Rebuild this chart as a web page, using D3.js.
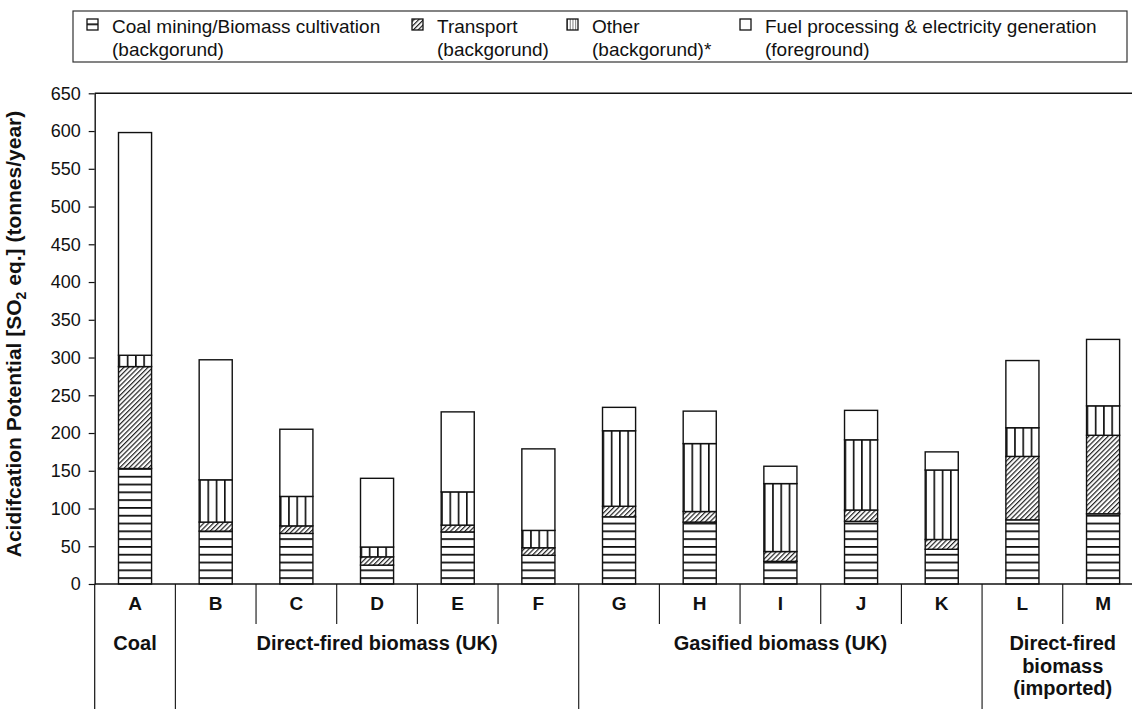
<!DOCTYPE html>
<html>
<head>
<meta charset="utf-8">
<script src="https://cdn.jsdelivr.net/npm/d3@7/dist/d3.min.js"></script>
<style>
  html, body { margin: 0; padding: 0; background: #fff; }
  svg { display: block; font-family: Arial, "Liberation Sans", Helvetica, sans-serif; }
</style>
</head>
<body>
<svg id="chart" width="1132" height="709"></svg>
<script>
// Cases A–M
const categories = ["A","B","C","D","E","F","G","H","I","J","K","L","M"];

// Acidification potential per stage (tonnes SO2 eq./year), stacked bottom to top
const coalMining = [153, 70, 67, 25, 69, 38, 89, 82, 30, 83, 46, 85, 93];
const transport  = [135, 12, 10, 11,  9, 10, 14, 14, 13, 15, 13, 84, 104];
const other      = [ 15, 56, 39, 13, 44, 23,100, 90, 90, 93, 92, 38, 39];
const fuelProc   = [295,159, 89, 91,106,108, 31, 43, 23, 39, 24, 89, 88];

const yTicks = [0,50,100,150,200,250,300,350,400,450,500,550,600,650];

const groups = [
  { lines: ["Coal"], from: "A", to: "A" },
  { lines: ["Direct-fired biomass (UK)"], from: "B", to: "F" },
  { lines: ["Gasified biomass (UK)"], from: "G", to: "K" },
  { lines: ["Direct-fired", "biomass", "(imported)"], from: "L", to: "M" }
];

const seriesKeys = ["coal", "transport", "other", "fuel"];
const legendLabels = [
  ["Coal mining/Biomass cultivation", "(backgorund)"],
  ["Transport", "(backgorund)"],
  ["Other", "(backgorund)*"],
  ["Fuel processing & electricity generation", "(foreground)"]
];

const rows = categories.map((c, i) => ({
  cat: c, coal: coalMining[i], transport: transport[i], other: other[i], fuel: fuelProc[i]
}));

const svg = d3.select("#chart");
const plotLeft = 94.7, step = 80.67, plotTop = 93.3, base = 584;

const x = d3.scaleBand().domain(categories)
  .range([plotLeft, plotLeft + step * categories.length]).padding(0);
const y = d3.scaleLinear().domain([0, 650]).range([base, plotTop]);
const barW = x.bandwidth() * 0.41;

// fill patterns
const defs = svg.append("defs");
const pH = defs.append("pattern").attr("id", "pat-coal")
  .attr("patternUnits", "userSpaceOnUse").attr("width", 8).attr("height", 7.8);
pH.append("rect").attr("width", 8).attr("height", 7.8).attr("fill", "#fff");
pH.append("rect").attr("x", 0).attr("y", 0).attr("width", 8).attr("height", 1.8).attr("fill", "#111");

const pD = defs.append("pattern").attr("id", "pat-transport")
  .attr("patternUnits", "userSpaceOnUse").attr("width", 3.4).attr("height", 3.4)
  .attr("patternTransform", "rotate(45)");
pD.append("rect").attr("width", 3.4).attr("height", 3.4).attr("fill", "#fff");
pD.append("rect").attr("x", 0).attr("y", 0).attr("width", 1.2).attr("height", 3.4).attr("fill", "#222");

const pV = defs.append("pattern").attr("id", "pat-other")
  .attr("patternUnits", "objectBoundingBox").attr("patternContentUnits", "objectBoundingBox")
  .attr("width", 0.25).attr("height", 1);
pV.append("rect").attr("width", 0.25).attr("height", 1).attr("fill", "#fff");
pV.append("rect").attr("x", 0).attr("y", 0).attr("width", 0.05).attr("height", 1).attr("fill", "#111");

const fills = { coal: "url(#pat-coal)", transport: "url(#pat-transport)", other: "url(#pat-other)", fuel: "#fff" };

// stacked bars
const stacked = d3.stack().keys(seriesKeys)(rows);
const layer = svg.append("g").selectAll("g").data(stacked).join("g")
  .attr("fill", d => fills[d.key]);
layer.selectAll("rect").data(d => d).join("rect")
  .attr("x", d => x(d.data.cat) + (x.bandwidth() - barW) / 2)
  .attr("width", barW)
  .attr("y", d => y(d[1]))
  .attr("height", d => y(d[0]) - y(d[1]))
  .attr("stroke", "#111").attr("stroke-width", 1.4);

// y axis
const yAxis = svg.append("g").attr("transform", `translate(${plotLeft},0)`)
  .call(d3.axisLeft(y).tickValues(yTicks).tickSize(6).tickSizeOuter(0).tickPadding(8));
yAxis.select(".domain").attr("stroke", "#111").attr("stroke-width", 1.4);
yAxis.selectAll(".tick line").attr("stroke", "#111").attr("stroke-width", 1.2);
yAxis.selectAll(".tick text").attr("font-size", 18).attr("fill", "#111")
  .attr("font-family", "Arial, 'Liberation Sans', sans-serif");

// frame top and baseline
svg.append("line").attr("x1", plotLeft).attr("x2", 1132).attr("y1", plotTop).attr("y2", plotTop)
  .attr("stroke", "#111").attr("stroke-width", 1.4);
svg.append("line").attr("x1", plotLeft).attr("x2", 1132).attr("y1", base).attr("y2", base)
  .attr("stroke", "#111").attr("stroke-width", 1.6);
svg.append("line").attr("x1", plotLeft).attr("x2", plotLeft).attr("y1", base).attr("y2", 709)
  .attr("stroke", "#111").attr("stroke-width", 1.2);

// category letters and separators
const catG = svg.append("g");
catG.selectAll("text").data(categories).join("text")
  .attr("x", d => x(d) + x.bandwidth() / 2).attr("y", 610)
  .attr("text-anchor", "middle").attr("font-weight", "bold").attr("font-size", 19)
  .attr("fill", "#111").text(d => d);

const groupStarts = new Set(groups.map(g => g.from));
catG.selectAll("line").data(categories.slice(1)).join("line")
  .attr("x1", d => x(d)).attr("x2", d => x(d))
  .attr("y1", base).attr("y2", d => groupStarts.has(d) ? 709 : 624)
  .attr("stroke", "#111").attr("stroke-width", 1.1);

// group labels
const grpG = svg.append("g");
groups.forEach(g => {
  const cx = (x(g.from) + x(g.to) + x.bandwidth()) / 2;
  const t = grpG.append("text").attr("text-anchor", "middle")
    .attr("font-weight", "bold").attr("font-size", 20).attr("fill", "#111");
  g.lines.forEach((ln, i) => {
    t.append("tspan").attr("x", cx).attr("y", 650 + i * 22.5).text(ln);
  });
});

// y axis title
const yt = svg.append("text")
  .attr("transform", "translate(21,334) rotate(-90)")
  .attr("text-anchor", "middle").attr("font-weight", "bold").attr("font-size", 21).attr("fill", "#111");
yt.append("tspan").text("Acidifcation Potential [SO");
yt.append("tspan").attr("font-size", 14).attr("dy", 5).text("2");
yt.append("tspan").attr("dy", -5).text(" eq.] (tonnes/year)");

// legend
const lg = svg.append("g");
lg.append("rect").attr("x", 73).attr("y", 11).attr("width", 1054).attr("height", 51)
  .attr("fill", "#fff").attr("stroke", "#333").attr("stroke-width", 1.2);
const legendX = [87, 412, 567, 740];
seriesKeys.forEach((k, i) => {
  const gx = legendX[i];
  lg.append("rect").attr("x", gx).attr("y", 19).attr("width", 11).attr("height", 11)
    .attr("fill", fills[k])
    .attr("stroke", "#111").attr("stroke-width", 1.3);
  const t = lg.append("text").attr("font-size", 19).attr("fill", "#111");
  legendLabels[i].forEach((ln, j) => {
    t.append("tspan").attr("x", gx + 25).attr("y", 33 + j * 23).text(ln);
  });
});
</script>
</body>
</html>
